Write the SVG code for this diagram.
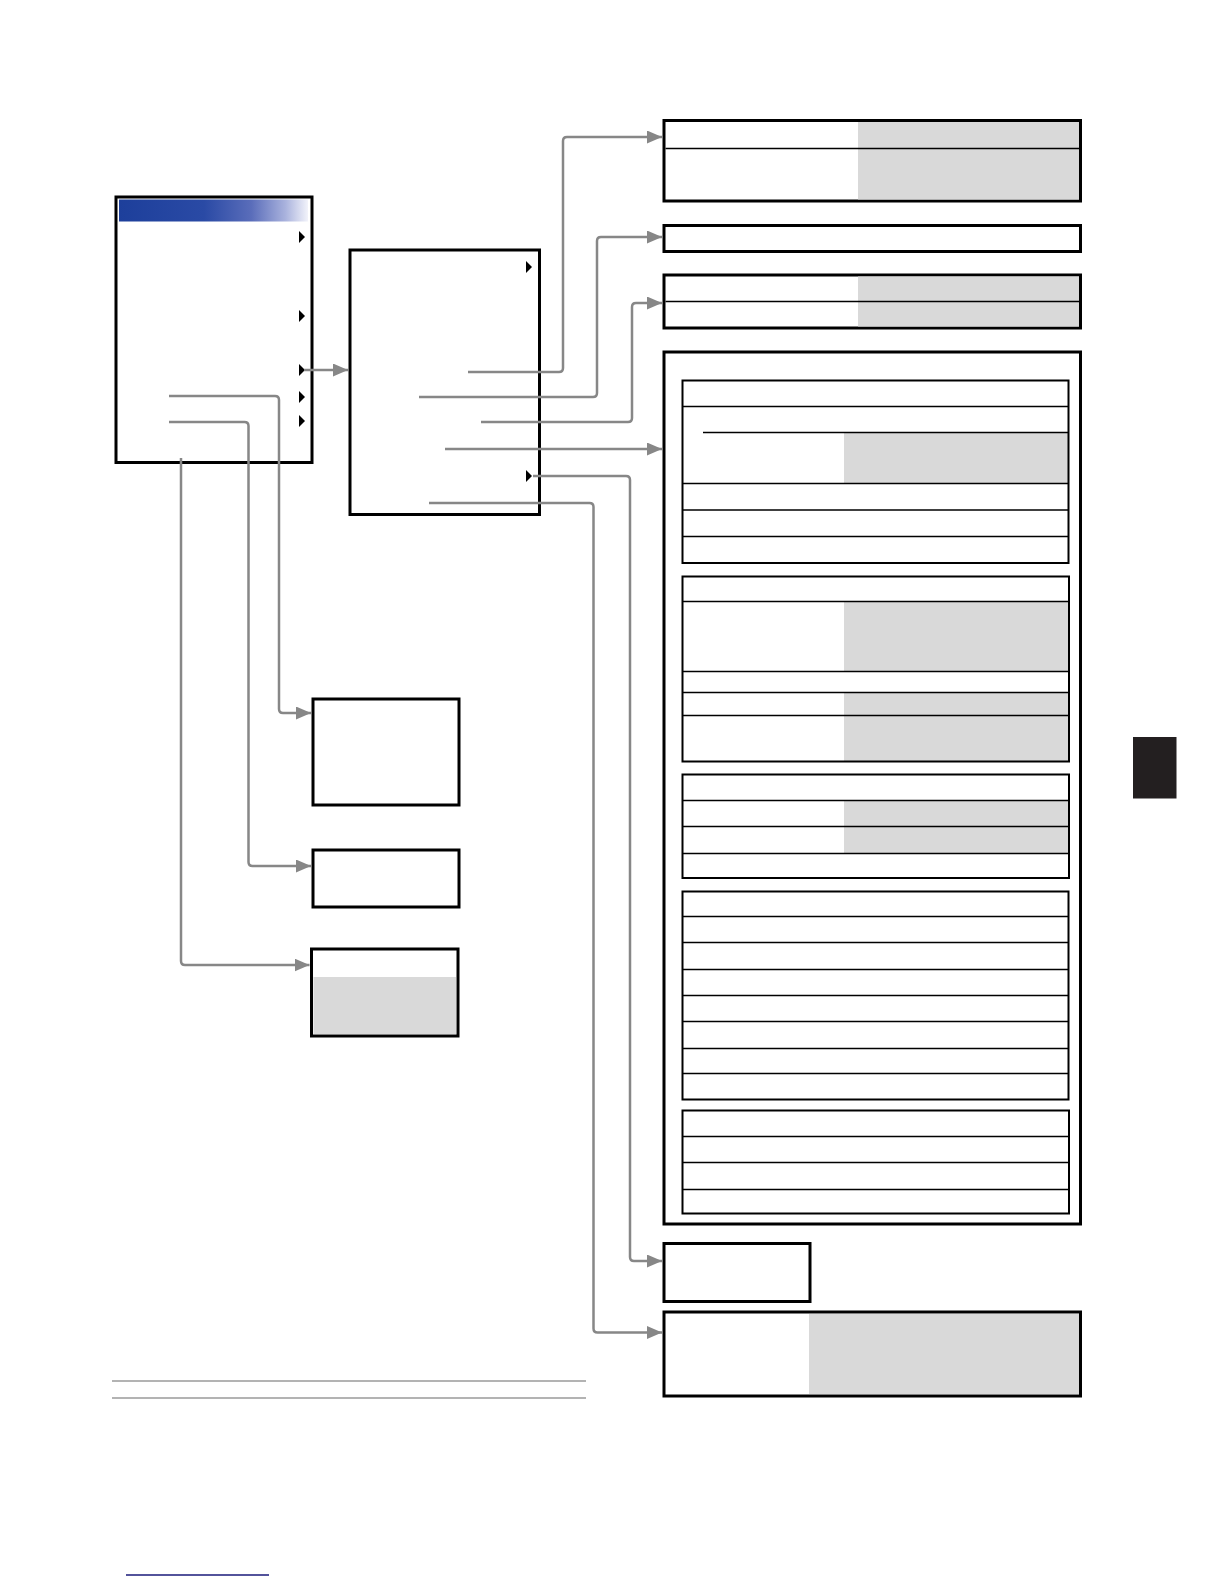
<svg xmlns="http://www.w3.org/2000/svg" width="1224" height="1584" viewBox="0 0 1224 1584">
<style>
.box{fill:#fff;stroke:#000;stroke-width:3}
.sec{fill:none;stroke:#000;stroke-width:2}
.row{stroke:#000;stroke-width:1.6}
.gray{fill:#d9d9d9}
.tri{fill:#000}
.con{fill:none;stroke:#878787;stroke-width:2.5;stroke-linejoin:round}
.rule{stroke:#9a9a9a;stroke-width:1.6}
</style>
<defs>
<linearGradient id="tb" x1="0" y1="0" x2="1" y2="0">
<stop offset="0" stop-color="#1d3f9b"/>
<stop offset="0.45" stop-color="#2a4aa5"/>
<stop offset="0.7" stop-color="#5a6dba"/>
<stop offset="0.88" stop-color="#a9b2dd"/>
<stop offset="1" stop-color="#f2f3fa"/>
</linearGradient>
<marker id="ah" markerUnits="userSpaceOnUse" markerWidth="15" markerHeight="13" refX="15" refY="6.5" orient="auto">
<path d="M0,0 L15,6.5 L0,13 Z" fill="#878787"/>
</marker>
</defs>
<rect width="1224" height="1584" fill="#fff"/>

<g id="menu1">
<rect class="box" x="116" y="197" width="196" height="265.5"/>
<rect x="119" y="199.5" width="189" height="22" fill="url(#tb)"/>
<path class="tri" d="M299,231 L305,237 L299,243 Z"/>
<path class="tri" d="M299,310 L305,316 L299,322 Z"/>
<path class="tri" d="M299,364 L305,370 L299,376 Z"/>
<path class="tri" d="M299,391 L305,397 L299,403 Z"/>
<path class="tri" d="M299,415 L305,421 L299,427 Z"/>
</g>

<g id="menu2">
<rect class="box" x="350" y="250" width="189.5" height="264.5"/>
<path class="tri" d="M526,261 L532,267 L526,273 Z"/>
<path class="tri" d="M526,470 L532,476 L526,482 Z"/>
</g>

<g id="boxA">
<rect class="box" x="664" y="120.5" width="416.5" height="80.5"/>
<rect class="gray" x="858" y="122" width="221" height="77.5"/>
<line class="row" x1="665.5" y1="148.5" x2="1079" y2="148.5"/>
</g>

<g id="boxB">
<rect class="box" x="664" y="225.5" width="416.5" height="26"/>
</g>

<g id="boxC">
<rect class="box" x="664" y="275" width="416.5" height="53"/>
<rect class="gray" x="858" y="276.5" width="221" height="50"/>
<line class="row" x1="665.5" y1="301.5" x2="1079" y2="301.5"/>
</g>

<g id="boxD">
<rect class="box" x="664" y="352" width="416.5" height="872"/>
<g id="sec1">
<rect class="gray" x="844" y="432.5" width="224" height="51"/>
<rect class="sec" x="682.5" y="380.5" width="386" height="182.5"/>
<line class="row" x1="682.5" y1="406.5" x2="1068.5" y2="406.5"/>
<line class="row" x1="703" y1="432.5" x2="1068.5" y2="432.5"/>
<line class="row" x1="682.5" y1="483.5" x2="1068.5" y2="483.5"/>
<line class="row" x1="682.5" y1="510" x2="1068.5" y2="510"/>
<line class="row" x1="682.5" y1="536.5" x2="1068.5" y2="536.5"/>
</g>
<g id="sec2">
<rect class="gray" x="844" y="601.5" width="225" height="70"/>
<rect class="gray" x="844" y="692.5" width="225" height="69"/>
<rect class="sec" x="682.5" y="576.5" width="386.5" height="185"/>
<line class="row" x1="682.5" y1="601.5" x2="1069" y2="601.5"/>
<line class="row" x1="682.5" y1="671.5" x2="1069" y2="671.5"/>
<line class="row" x1="682.5" y1="692.5" x2="1069" y2="692.5"/>
<line class="row" x1="682.5" y1="715.5" x2="1069" y2="715.5"/>
</g>
<g id="sec3">
<rect class="gray" x="844" y="800.5" width="225" height="53"/>
<rect class="sec" x="682.5" y="774.5" width="386.5" height="103.5"/>
<line class="row" x1="682.5" y1="800.5" x2="1069" y2="800.5"/>
<line class="row" x1="682.5" y1="826.5" x2="1069" y2="826.5"/>
<line class="row" x1="682.5" y1="853.5" x2="1069" y2="853.5"/>
</g>
<g id="sec4">
<rect class="sec" x="682.5" y="891.5" width="386" height="208"/>
<line class="row" x1="682.5" y1="916.5" x2="1068.5" y2="916.5"/>
<line class="row" x1="682.5" y1="942.5" x2="1068.5" y2="942.5"/>
<line class="row" x1="682.5" y1="969.5" x2="1068.5" y2="969.5"/>
<line class="row" x1="682.5" y1="995.5" x2="1068.5" y2="995.5"/>
<line class="row" x1="682.5" y1="1021.5" x2="1068.5" y2="1021.5"/>
<line class="row" x1="682.5" y1="1048.5" x2="1068.5" y2="1048.5"/>
<line class="row" x1="682.5" y1="1073.5" x2="1068.5" y2="1073.5"/>
</g>
<g id="sec5">
<rect class="sec" x="682.5" y="1110.5" width="386.5" height="103"/>
<line class="row" x1="682.5" y1="1136.5" x2="1069" y2="1136.5"/>
<line class="row" x1="682.5" y1="1162.5" x2="1069" y2="1162.5"/>
<line class="row" x1="682.5" y1="1189.5" x2="1069" y2="1189.5"/>
</g>
</g>

<g id="boxE">
<rect class="box" x="664" y="1243.5" width="146" height="58"/>
</g>

<g id="boxF">
<rect class="box" x="664" y="1312" width="416.5" height="84" stroke-width="3.5"/>
<rect class="gray" x="809" y="1314" width="270" height="80"/>
</g>

<g id="boxG">
<rect class="box" x="313" y="699" width="146" height="106"/>
</g>

<g id="boxH">
<rect class="box" x="313" y="850" width="146" height="57"/>
</g>

<g id="boxI">
<rect class="box" x="311.5" y="949" width="146.5" height="87" stroke-width="3.5"/>
<rect class="gray" x="313.5" y="977" width="142.5" height="57"/>
</g>

<g id="tab">
<rect x="1133" y="737" width="43.5" height="61.5" fill="#231f20"/>
</g>

<g id="connectors">
<path class="con" marker-end="url(#ah)" d="M304,370 H348"/>
<path class="con" marker-end="url(#ah)" d="M468,372 H559 Q563,372 563,368 V141 Q563,137 567,137 H662"/>
<path class="con" marker-end="url(#ah)" d="M419,397 H593 Q597,397 597,393 V241 Q597,237 601,237 H662"/>
<path class="con" marker-end="url(#ah)" d="M481,422 H628 Q632,422 632,418 V307 Q632,303 636,303 H662"/>
<path class="con" marker-end="url(#ah)" d="M445,449 H662"/>
<path class="con" marker-end="url(#ah)" d="M533,476 H626 Q630,476 630,480 V1257 Q630,1261 634,1261 H662"/>
<path class="con" marker-end="url(#ah)" d="M429,503 H589.5 Q593.5,503 593.5,507 V1328.5 Q593.5,1332.5 597.5,1332.5 H662"/>
<path class="con" marker-end="url(#ah)" d="M169,396 H275 Q279,396 279,400 V709 Q279,713 283,713 H311"/>
<path class="con" marker-end="url(#ah)" d="M169,422 H244.5 Q248.5,422 248.5,426 V862 Q248.5,866 252.5,866 H311"/>
<path class="con" marker-end="url(#ah)" d="M181,458 V961 Q181,965 185,965 H309.5"/>
</g>

<g id="rules">
<line class="rule" x1="112" y1="1381" x2="586" y2="1381"/>
<line class="rule" x1="112" y1="1398" x2="586" y2="1398"/>
<line x1="126" y1="1575" x2="269" y2="1575" stroke="#1a1a7a" stroke-width="1.6"/>
</g>
</svg>
